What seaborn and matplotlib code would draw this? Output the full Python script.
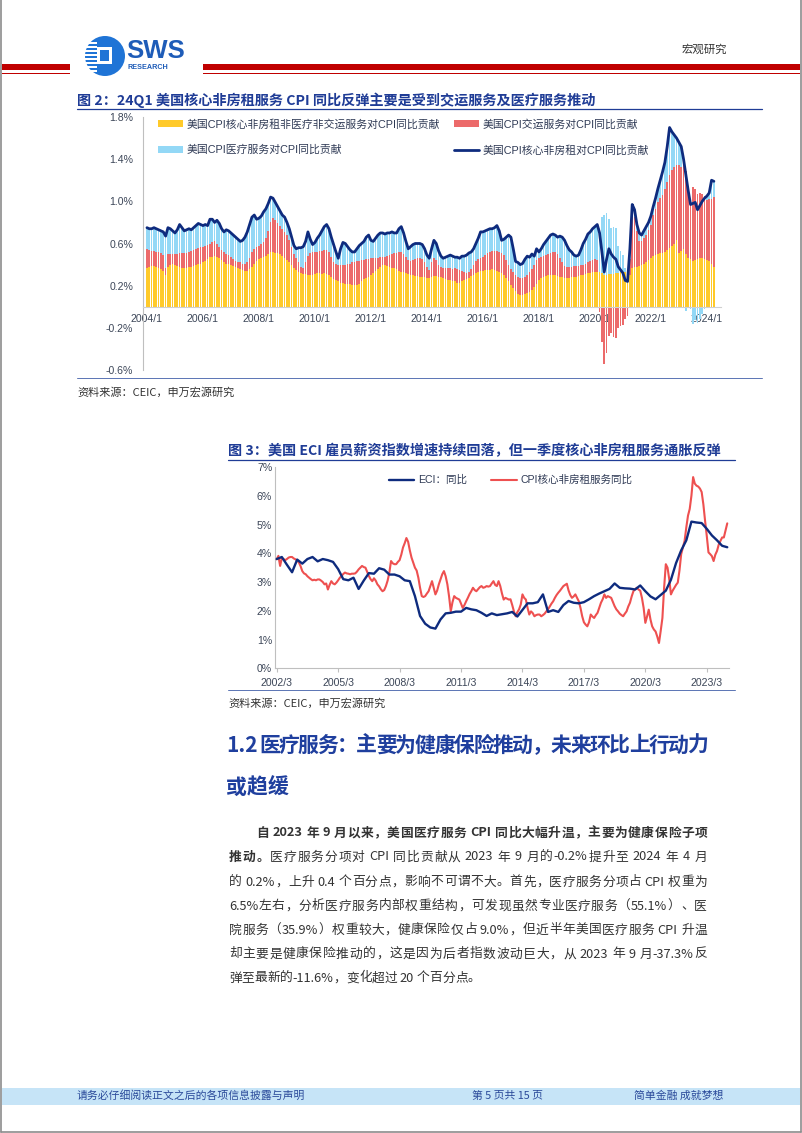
import numpy as np
import pandas as pd
import matplotlib
matplotlib.use("Agg")
import matplotlib.pyplot as plt
import seaborn as sns
from matplotlib.patches import Rectangle, Circle, Patch
from matplotlib.lines import Line2D

# ---------------- Figure 2 data: monthly, 2004/1 - 2024/4, contribution to CPI YoY (%) ----------------
other_contrib = [  # 美国CPI核心非房租非医疗非交运服务对CPI同比贡献
    0.37,0.38,0.39,0.39,0.38,0.37,0.36,0.34,0.30,0.38,0.40,0.41,
    0.40,0.39,0.38,0.37,0.37,0.37,0.38,0.38,0.39,0.40,0.41,0.41,
    0.42,0.43,0.45,0.47,0.47,0.48,0.47,0.46,0.44,0.42,0.41,0.41,
    0.40,0.39,0.38,0.37,0.36,0.35,0.34,0.34,0.36,0.38,0.41,0.43,
    0.45,0.46,0.47,0.48,0.50,0.52,0.52,0.51,0.51,0.50,0.48,0.46,
    0.44,0.42,0.40,0.37,0.35,0.33,0.32,0.31,0.31,0.30,0.30,0.30,
    0.31,0.32,0.32,0.31,0.32,0.31,0.30,0.28,0.26,0.25,0.24,0.23,
    0.23,0.22,0.22,0.22,0.21,0.21,0.21,0.22,0.24,0.26,0.27,0.28,
    0.30,0.32,0.34,0.36,0.38,0.40,0.40,0.39,0.38,0.37,0.37,0.36,
    0.34,0.33,0.33,0.32,0.31,0.30,0.30,0.29,0.29,0.28,0.28,0.28,
    0.27,0.27,0.28,0.29,0.29,0.28,0.28,0.27,0.26,0.25,0.25,0.24,
    0.24,0.23,0.23,0.24,0.25,0.26,0.27,0.29,0.30,0.32,0.33,0.34,
    0.34,0.35,0.35,0.35,0.36,0.35,0.34,0.33,0.32,0.30,0.27,0.24,
    0.21,0.18,0.15,0.12,0.11,0.11,0.12,0.13,0.14,0.16,0.19,0.22,
    0.25,0.27,0.28,0.29,0.30,0.30,0.30,0.30,0.29,0.28,0.28,0.27,
    0.27,0.27,0.28,0.28,0.28,0.29,0.30,0.30,0.31,0.32,0.32,0.33,
    0.33,0.33,0.33,0.32,0.30,0.30,0.31,0.31,0.31,0.32,0.32,0.33,
    0.33,0.33,0.27,0.30,0.37,0.38,0.38,0.39,0.40,0.41,0.42,0.44,
    0.46,0.48,0.49,0.50,0.51,0.51,0.52,0.54,0.56,0.58,0.60,0.63,
    0.51,0.53,0.55,0.50,0.46,0.45,0.43,0.44,0.45,0.46,0.46,0.45,
    0.44,0.43,0.41,0.38,
]
transport_contrib = [  # 美国CPI交运服务对CPI同比贡献
    0.18,0.16,0.14,0.14,0.14,0.15,0.15,0.15,0.07,0.12,0.10,0.09,
    0.10,0.11,0.13,0.14,0.14,0.14,0.14,0.15,0.15,0.15,0.15,0.16,
    0.15,0.15,0.14,0.13,0.14,0.14,0.13,0.11,0.10,0.10,0.09,0.08,
    0.07,0.06,0.05,0.05,0.06,0.06,0.07,0.08,0.10,0.14,0.14,0.14,
    0.13,0.14,0.14,0.17,0.22,0.28,0.32,0.31,0.28,0.27,0.26,0.25,
    0.24,0.21,0.17,0.13,0.11,0.09,0.06,0.06,0.11,0.18,0.21,0.22,
    0.21,0.20,0.21,0.22,0.22,0.23,0.22,0.19,0.16,0.16,0.16,0.17,
    0.17,0.18,0.19,0.19,0.21,0.21,0.22,0.21,0.20,0.18,0.18,0.17,
    0.16,0.14,0.12,0.10,0.09,0.07,0.07,0.09,0.11,0.13,0.14,0.15,
    0.18,0.19,0.17,0.15,0.13,0.13,0.14,0.16,0.17,0.18,0.17,0.14,
    0.11,0.08,0.14,0.17,0.15,0.12,0.10,0.10,0.11,0.12,0.12,0.12,
    0.13,0.13,0.12,0.10,0.08,0.06,0.06,0.07,0.10,0.11,0.12,0.12,
    0.13,0.14,0.16,0.17,0.17,0.18,0.19,0.19,0.19,0.19,0.17,0.16,
    0.15,0.15,0.15,0.16,0.16,0.16,0.16,0.17,0.19,0.20,0.21,0.22,
    0.21,0.20,0.20,0.20,0.20,0.21,0.22,0.22,0.21,0.18,0.14,0.12,
    0.11,0.11,0.10,0.11,0.11,0.10,0.10,0.10,0.10,0.10,0.11,0.11,
    0.12,0.11,-0.05,-0.33,-0.54,-0.44,-0.28,-0.25,-0.29,-0.30,-0.20,-0.18,
    -0.17,-0.12,-0.09,0.15,0.54,0.47,0.34,0.23,0.22,0.24,0.26,0.29,
    0.32,0.39,0.44,0.49,0.52,0.55,0.60,0.64,0.69,0.72,0.73,0.71,
    0.83,0.80,0.79,0.79,0.63,0.54,0.71,0.68,0.62,0.62,0.61,0.60,
    0.57,0.59,0.61,0.66,
]
core_nonrent_total = [  # 美国CPI核心非房租对CPI同比贡献 (line)
    0.75,0.74,0.74,0.75,0.74,0.73,0.72,0.71,0.67,0.75,0.74,0.72,
    0.70,0.73,0.78,0.75,0.72,0.73,0.74,0.73,0.75,0.77,0.79,0.78,
    0.77,0.78,0.77,0.83,0.83,0.80,0.82,0.79,0.74,0.71,0.73,0.72,
    0.70,0.68,0.66,0.64,0.62,0.63,0.66,0.71,0.78,0.85,0.87,0.83,
    0.84,0.86,0.90,0.93,0.98,1.04,1.03,0.99,0.95,0.91,0.87,0.85,
    0.80,0.74,0.66,0.58,0.55,0.56,0.56,0.57,0.62,0.71,0.64,0.59,
    0.61,0.65,0.68,0.72,0.76,0.78,0.74,0.66,0.59,0.52,0.46,0.55,
    0.61,0.60,0.57,0.54,0.52,0.52,0.55,0.58,0.60,0.62,0.66,0.68,
    0.63,0.62,0.65,0.68,0.70,0.70,0.69,0.70,0.70,0.71,0.70,0.70,
    0.74,0.76,0.70,0.62,0.55,0.57,0.59,0.60,0.60,0.60,0.59,0.55,
    0.49,0.46,0.55,0.63,0.60,0.53,0.48,0.46,0.47,0.48,0.49,0.48,
    0.47,0.47,0.46,0.48,0.48,0.49,0.51,0.52,0.55,0.60,0.65,0.71,
    0.71,0.72,0.73,0.74,0.74,0.75,0.77,0.72,0.63,0.64,0.66,0.68,
    0.66,0.55,0.43,0.42,0.40,0.41,0.45,0.48,0.47,0.50,0.48,0.55,
    0.52,0.55,0.59,0.62,0.65,0.68,0.69,0.68,0.66,0.67,0.66,0.63,
    0.58,0.54,0.52,0.49,0.48,0.49,0.54,0.60,0.64,0.69,0.71,0.74,
    0.76,0.78,0.70,0.52,0.33,0.45,0.55,0.50,0.47,0.45,0.38,0.35,
    0.32,0.25,0.24,0.55,0.97,0.92,0.78,0.70,0.68,0.72,0.76,0.80,
    0.86,0.95,1.03,1.12,1.20,1.28,1.37,1.52,1.70,1.66,1.63,1.60,
    1.56,1.52,1.40,1.25,1.10,0.97,0.98,0.99,0.92,0.96,1.00,1.03,
    1.05,1.08,1.20,1.19,
]
fig2_xlabels = ["2004/1","2006/1","2008/1","2010/1","2012/1","2014/1",
                "2016/1","2018/1","2020/1","2022/1","2024/1"]
fig2_yticks = [-0.6,-0.2,0.2,0.6,1.0,1.4,1.8]
fig2_names = ["美国CPI核心非房租非医疗非交运服务对CPI同比贡献", "美国CPI交运服务对CPI同比贡献",
              "美国CPI医疗服务对CPI同比贡献", "美国CPI核心非房租对CPI同比贡献"]

# ---------------- Figure 3 data ----------------
eci_yoy = [  # quarterly from 2002/3
    3.80,3.87,3.60,3.34, 3.78,3.64,3.80,3.87, 3.72,3.80,3.76,3.70,
    3.45,3.10,3.06,3.15, 2.76,3.05,3.31,3.29, 3.48,3.43,3.26,3.26,
    3.20,3.06,3.03,2.51, 1.82,1.55,1.42,1.38, 1.70,1.91,1.93,1.97,
    1.97,2.10,2.05,2.02, 1.93,1.82,1.91,1.85, 1.88,1.91,1.96,1.80,
    2.03,2.26,2.26,2.30, 2.57,1.96,2.02,1.96, 2.20,2.34,2.28,2.26,
    2.30,2.40,2.51,2.60, 2.68,2.76,2.95,2.80, 2.78,2.77,2.74,2.88,
    2.68,2.50,2.40,2.55, 2.70,3.08,3.66,4.10, 4.45,5.10,5.07,5.05,
    4.85,4.62,4.45,4.26, 4.21,
]
cpi_nonrent_services_yoy = [  # monthly from 2002/3
    3.79,3.91,3.56,3.83,3.80,3.76,3.80,3.85,3.87,3.87,
    3.82,3.79,3.75,3.68,3.55,3.38,3.30,3.27,3.20,3.15,3.10,3.06,
    3.08,3.06,3.09,3.09,3.05,3.00,2.92,2.95,2.74,2.90,3.03,2.95,
    2.92,2.98,3.06,3.15,3.21,3.28,3.33,3.30,3.29,3.27,3.29,3.29,
    3.30,3.36,3.44,3.50,3.56,3.52,3.50,3.35,3.21,3.10,3.03,3.13,
    3.05,2.92,2.85,2.75,2.68,2.72,2.86,3.05,3.33,3.73,3.65,3.62,
    3.62,3.70,3.76,3.95,4.20,4.35,4.53,4.40,4.10,3.85,3.68,3.50,
    3.40,3.15,2.80,2.51,2.48,2.51,2.60,2.68,2.85,3.03,2.80,2.57,
    2.70,2.92,3.10,3.27,3.38,3.20,2.92,2.50,1.98,2.30,2.51,2.45,
    2.42,2.39,2.25,2.10,2.20,2.33,2.45,2.58,2.68,2.80,2.72,2.68,
    2.75,2.82,2.86,2.80,2.82,2.86,2.84,2.86,2.95,3.03,2.90,2.86,
    3.03,2.86,2.60,2.39,2.45,2.42,2.39,2.40,2.20,1.98,1.81,1.95,
    2.05,2.22,2.57,2.45,2.39,2.10,1.87,1.98,1.92,1.81,1.85,1.87,
    1.87,1.81,1.85,1.90,1.98,2.05,2.15,2.25,2.33,2.45,2.55,2.63,
    2.70,2.78,2.86,2.90,2.94,2.71,2.55,2.45,2.50,2.57,2.45,2.33,
    2.10,1.81,1.60,1.52,1.46,1.60,1.87,1.80,1.75,1.85,1.93,2.10,
    2.28,2.40,2.57,2.45,2.51,2.48,2.45,2.30,2.16,2.05,1.98,1.90,
    1.85,1.81,1.90,1.98,2.15,2.28,2.50,2.68,2.75,2.80,2.74,2.70,
    2.45,2.10,1.58,1.80,2.04,1.70,1.46,1.35,1.28,1.10,0.88,1.30,
    1.75,2.80,3.62,3.50,3.10,2.57,2.70,2.80,2.90,2.98,3.40,3.97,
    4.20,4.43,4.90,5.31,5.54,6.00,6.65,6.42,6.35,6.32,6.25,6.13,
    5.70,5.13,4.60,4.03,3.97,3.90,3.73,3.95,4.08,4.30,4.43,4.55,
    4.55,4.80,5.04,
]
fig3_xlabels = ["2002/3","2005/3","2008/3","2011/3","2014/3","2017/3","2020/3","2023/3"]
fig3_yticks = [0,1,2,3,4,5,6,7]
fig3_names = ["ECI：同比", "CPI核心非房租服务同比"]

# ---------------- page texts ----------------
title2 = "图 2：24Q1 美国核心非房租服务 CPI 同比反弹主要是受到交运服务及医疗服务推动"
title3 = "图 3：美国 ECI 雇员薪资指数增速持续回落，但一季度核心非房租服务通胀反弹"
source_txt = "资料来源：CEIC，申万宏源研究"
heading_l1 = "1.2 医疗服务：主要为健康保险推动，未来环比上行动力"
heading_l2 = "或趋缓"
body_lines = [
    [("自 2023 年 9 月以来，美国医疗服务 CPI 同比大幅升温，主要为健康保险子项", True)],
    [("推动。", True), ("医疗服务分项对 CPI 同比贡献从 2023 年 9 月的-0.2%提升至 2024 年 4 月", False)],
    [("的 0.2%，上升 0.4 个百分点，影响不可谓不大。首先，医疗服务分项占 CPI 权重为", False)],
    [("6.5%左右，分析医疗服务内部权重结构，可发现虽然专业医疗服务（55.1%）、医", False)],
    [("院服务（35.9%）权重较大，健康保险仅占 9.0%，但近半年美国医疗服务 CPI 升温", False)],
    [("却主要是健康保险推动的，这是因为后者指数波动巨大，从 2023 年 9 月-37.3%反", False)],
    [("弹至最新的-11.6%，变化超过 20 个百分点。", False)],
]

# ---------------- style ----------------
sns.set_theme(style="white")
plt.rcParams["font.family"] = ["Liberation Sans", "Noto Sans CJK SC", "DejaVu Sans"]
plt.rcParams["axes.unicode_minus"] = False
CJK = ["Noto Sans CJK SC", "DejaVu Sans"]

W, H = 802, 1133
fig = plt.figure(figsize=(W / 100, H / 100), dpi=100)
fig.patch.set_facecolor("white")

def fx(px):
    return px / W

def fy(py):
    return 1 - py / H

# overlay axes in pixel coordinates (y downwards)
ov = fig.add_axes([0, 0, 1, 1])
ov.set_xlim(0, W)
ov.set_ylim(H, 0)
ov.axis("off")
ov.set_zorder(0)
renderer = fig.canvas.get_renderer()

NAVY = "#0E2B7E"
TBLUE = "#1F3C96"
YEL = "#FFCA2A"
RED = "#EC6A6A"
LBLUE = "#93D8F6"
TICKC = "#3C4658"

# ---- page border ----
ov.plot([1, 1], [0, 1131.5], color="#8C8C8C", lw=1.2)
ov.plot([800.5, 800.5], [0, 1131.5], color="#8C8C8C", lw=1.2)
ov.plot([1, 800.5], [1131.5, 1131.5], color="#8C8C8C", lw=1.2)

# ---- header ----
for xa, xb in [(2, 70), (203, 800)]:
    ov.add_patch(Rectangle((xa, 64), xb - xa, 6, color="#C00000", lw=0))
    ov.add_patch(Rectangle((xa, 72.5), xb - xa, 1.6, color="#C00000", lw=0))
ov.add_patch(Circle((105, 56), 20, color="#1F74D6", lw=0))
for yy in range(42, 72, 4):
    ov.add_patch(Rectangle((84, yy), 13, 1.6, color="white", lw=0))
ov.add_patch(Rectangle((97, 47), 15, 17, color="white", lw=0))
ov.add_patch(Rectangle((100, 50), 9, 11, color="#1F74D6", lw=0))
ov.text(126, 51, "SWS", fontsize=18.5, fontweight="bold", color="#1E5CB8",
        family=["Liberation Sans"], va="center", ha="left")
ov.text(128, 67.5, "RESEARCH", fontsize=5.2, fontweight="bold", color="#1E5CB8",
        family=["Liberation Sans"], va="center", ha="left")
ov.text(704, 50, "宏观研究", fontsize=8.2, color="#333333", family=CJK, va="center", ha="center")

# ---- justified text helper ----
def tokens_of(s):
    toks, buf = [], ""
    for ch in s:
        if ch == " ":
            if buf:
                toks.append(buf); buf = ""
            toks.append(" ")
        elif ord(ch) < 128:
            buf += ch
        else:
            if buf:
                toks.append(buf); buf = ""
            toks.append(ch)
    if buf:
        toks.append(buf)
    return toks

def text_width(s, size, bold):
    t = ov.text(0, 0, s, fontsize=size, fontweight="bold" if bold else "normal", family=CJK)
    w = t.get_window_extent(renderer).width
    t.remove()
    return w

def draw_line(segs, x0, y, x1=None, size=9.0, color="#333333"):
    items = []
    for txt, bold in segs:
        for tk in tokens_of(txt):
            items.append((tk, bold))
    sp = {b: text_width("x x", size, b) - text_width("xx", size, b) for b in (True, False)}
    arts, widths = [], []
    for tk, bold in items:
        if tk == " ":
            arts.append(None); widths.append(sp[bold] * 0.9); continue
        t = ov.text(0, y, tk, fontsize=size, fontweight="bold" if bold else "normal",
                    family=CJK, color=color, va="center", ha="left")
        arts.append(t); widths.append(t.get_window_extent(renderer).width)
    extra = 0.0
    if x1 is not None and len(items) > 1:
        extra = ((x1 - x0) - sum(widths)) / (len(items) - 1)
    x = x0
    for a, w in zip(arts, widths):
        if a is not None:
            a.set_x(x)
        x += w + extra

# ---- figure 2 title / source ----
ov.text(77, 100, title2, fontsize=10.2, fontweight="bold", color=TBLUE, family=CJK, va="center")
ov.plot([77, 762], [108.5, 108.5], color=TBLUE, lw=0.9)
ov.plot([77, 762], [378, 378], color="#5A74B4", lw=0.7)
ov.text(77, 392, source_txt, fontsize=8, color="#333333", family=CJK, va="center")

# ---- figure 3 title / source ----
ov.text(228, 451, title3, fontsize=10.2, fontweight="bold", color=TBLUE, family=CJK, va="center")
ov.plot([228, 735], [459.5, 459.5], color=TBLUE, lw=0.9)
ov.plot([228, 735], [690, 690], color="#5A74B4", lw=0.7)
ov.text(228, 703, source_txt, fontsize=8, color="#333333", family=CJK, va="center")

# ---- heading and body ----
draw_line([(heading_l1, True)], 226, 745, x1=708, size=15, color="#1F3F9E")
draw_line([(heading_l2, True)], 226, 787, size=15, color="#1F3F9E")
body_y = [833, 857, 882, 906, 930, 954, 978]
for i, (segs, yy) in enumerate(zip(body_lines, body_y)):
    x0 = 256 if i == 0 else 229
    x1 = 707 if i < len(body_lines) - 1 else None
    draw_line(segs, x0, yy, x1=x1, size=9.2, color="#333333")

# ---- footer ----
ov.add_patch(Rectangle((2, 1088), 798, 16.5, color="#C6E4F7", lw=0))
ov.text(77, 1096, "请务必仔细阅读正文之后的各项信息披露与声明", fontsize=7.8, color="#2A4A9A", family=CJK, va="center")
ov.text(472, 1096, "第 5 页共 15 页", fontsize=7.8, color="#2A4A9A", family=CJK, va="center")
ov.text(634, 1096, "简单金融 成就梦想", fontsize=7.8, color="#2A4A9A", family=CJK, va="center")

# ================= Figure 2 chart =================
n1 = min(len(other_contrib), len(transport_contrib), len(core_nonrent_total))
other = np.array(other_contrib[:n1])
trans = np.array(transport_contrib[:n1])
total = np.array(core_nonrent_total[:n1])
medical = total - other - trans  # 医疗服务贡献 = 合计 - 其余两项
m = np.arange(n1)

ax1 = fig.add_axes([fx(143), fy(370), fx(721) - fx(143), fy(117) - fy(370)])
ax1.set_facecolor("none")
pos = np.zeros(n1)
neg = np.zeros(n1)
for vals, col in [(other, YEL), (trans, RED), (medical, LBLUE)]:
    bottom = np.where(vals >= 0, pos, neg)
    ax1.bar(m, vals, bottom=bottom, width=0.72, color=col, lw=0, zorder=2)
    pos = pos + np.clip(vals, 0, None)
    neg = neg + np.clip(vals, None, 0)
df1 = pd.DataFrame({"m": m, "total": total})
sns.lineplot(data=df1, x="m", y="total", ax=ax1, color=NAVY, lw=2.0, zorder=4)

ax1.set_xlim(-1.7, -1.7 + (721 - 143) / 2.333)
ax1.set_ylim(-0.6, 1.8)
ax1.set_yticks(fig2_yticks)
ax1.set_yticklabels([f"{v:.1f}%" for v in fig2_yticks])
ax1.set_xticks(np.arange(0, 24 * len(fig2_xlabels), 24))
ax1.set_xticklabels(fig2_xlabels)
ax1.set_xlabel("")
ax1.set_ylabel("")
for s in ["top", "right"]:
    ax1.spines[s].set_visible(False)
ax1.spines["left"].set_color("#BFBFBF")
ax1.spines["left"].set_linewidth(0.8)
ax1.spines["bottom"].set_position(("data", 0))
ax1.spines["bottom"].set_color("#D0D0D0")
ax1.spines["bottom"].set_linewidth(0.8)
ax1.tick_params(axis="y", length=0, pad=7, labelsize=7.6, labelcolor=TICKC)
ax1.tick_params(axis="x", length=0, pad=5, labelsize=7.6, labelcolor=TICKC)
ax1.grid(False)

h1 = [Patch(facecolor=YEL, edgecolor="none"), Patch(facecolor=LBLUE, edgecolor="none"),
      Patch(facecolor=RED, edgecolor="none"), Line2D([0], [0], color=NAVY, lw=2.0)]
l1 = [fig2_names[0], fig2_names[2], fig2_names[1], fig2_names[3]]
ax1.legend(h1, l1, ncol=2, frameon=False, loc="upper left",
           bbox_to_anchor=(fx(158), fy(119)), bbox_transform=fig.transFigure,
           borderpad=0, borderaxespad=0, fontsize=7.8, handlelength=2.3,
           handleheight=0.6, handletextpad=0.35, columnspacing=1.3, labelspacing=1.4,
           labelcolor="#2F3A55")

# ================= Figure 3 chart =================
t_eci = np.arange(len(eci_yoy)) * 0.25
t_cpi = np.arange(len(cpi_nonrent_services_yoy)) / 12.0
df_eci = pd.DataFrame({"t": t_eci, "v": eci_yoy})
df_cpi = pd.DataFrame({"t": t_cpi, "v": cpi_nonrent_services_yoy})

ax2 = fig.add_axes([fx(275), fy(668.3), fx(729) - fx(275), fy(467) - fy(668.3)])
ax2.set_facecolor("none")
sns.lineplot(data=df_cpi, x="t", y="v", ax=ax2, color="#EE5050", lw=1.5, zorder=3)
sns.lineplot(data=df_eci, x="t", y="v", ax=ax2, color=NAVY, lw=1.7, zorder=4)
ax2.set_xlim((275 - 276.7) / 20.48, (729 - 276.7) / 20.48)
ax2.set_ylim(0, 7)
ax2.set_yticks(fig3_yticks)
ax2.set_yticklabels([f"{v}%" for v in fig3_yticks])
ax2.set_xticks(np.arange(0, 3 * len(fig3_xlabels), 3))
ax2.set_xticklabels(fig3_xlabels)
ax2.set_xlabel("")
ax2.set_ylabel("")
for s in ["top", "right"]:
    ax2.spines[s].set_visible(False)
for s in ["left", "bottom"]:
    ax2.spines[s].set_color("#BFBFBF")
    ax2.spines[s].set_linewidth(0.8)
ax2.tick_params(axis="y", length=0, pad=2, labelsize=7.6, labelcolor=TICKC)
ax2.tick_params(axis="x", direction="out", length=3, width=0.8, color="#BFBFBF",
                pad=4, labelsize=7.6, labelcolor=TICKC, bottom=True)
ax2.grid(False)
h2 = [Line2D([0], [0], color=NAVY, lw=1.7), Line2D([0], [0], color="#EE5050", lw=1.5)]
ax2.legend(h2, fig3_names, ncol=2, frameon=False, loc="upper left",
           bbox_to_anchor=(fx(389), fy(475)), bbox_transform=fig.transFigure,
           borderpad=0, borderaxespad=0, fontsize=7.6, handlelength=2.4,
           handletextpad=0.35, columnspacing=2.3, labelcolor="#2F3A55")

fig.savefig("out.png", dpi=100, facecolor="white")
